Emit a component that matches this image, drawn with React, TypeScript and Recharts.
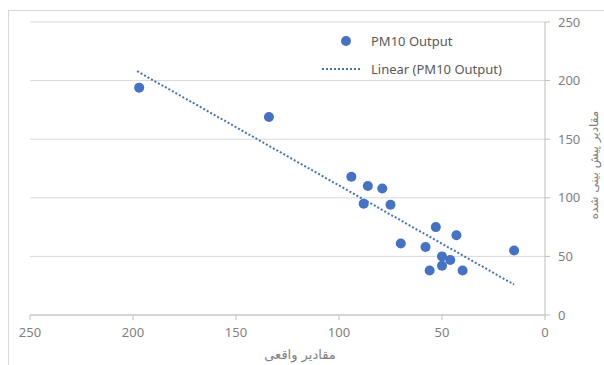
import { ScatterChart, Scatter, XAxis, YAxis, CartesianGrid } from "recharts";

// measured (actual) values on x, predicted on y
const actualValues = [197, 134, 94, 86, 79, 88, 75, 53, 43, 70, 58, 50, 46, 15, 56, 50, 40];
const predictedValues = [194, 169, 118, 110, 108, 95, 94, 75, 68, 61, 58, 50, 47, 55, 38, 42, 38];

// trendline end points
const trendX = [198, 15];
const trendY = [208, 26];

const xTicks = [0, 50, 100, 150, 200, 250];
const yTicks = [0, 50, 100, 150, 200, 250];

const BLUE = "#4472C4";
const TEXT = "#7f7f7f";

const points = actualValues.map((x, i) => ({ x, y: predictedValues[i] }));
const trend = trendX.map((x, i) => ({ x, y: trendY[i] }));

function LegendBox() {
  return (
    <div style={{ fontFamily: "Noto Sans, sans-serif", fontSize: 13, color: "#595959" }}>
      <div style={{ display: "flex", alignItems: "center", height: 28 }}>
        <svg width={48} height={12}>
          <circle cx={30} cy={6} r={5} fill={BLUE} />
        </svg>
        <span style={{ marginLeft: 7 }}>PM10 Output</span>
      </div>
      <div style={{ display: "flex", alignItems: "center", height: 28 }}>
        <svg width={48} height={12}>
          <line x1={6} y1={6} x2={46} y2={6} stroke={BLUE} strokeWidth={2} strokeDasharray="2 2" />
        </svg>
        <span style={{ marginLeft: 7 }}>Linear (PM10 Output)</span>
      </div>
    </div>
  );
}

export default function App() {
  return (
    <div style={{ position: "absolute", left: 0, top: 0, width: 604, height: 365, overflow: "hidden", background: "#fff" }}>
      <div
        style={{
          position: "absolute",
          left: 8,
          top: 10,
          width: 700,
          height: 500,
          borderLeft: "1px solid #d9d9d9",
          borderTop: "1px solid #d9d9d9",
        }}
      />
      <div style={{ position: "absolute", left: 0, top: 0 }}>
        <ScatterChart width={604} height={365} margin={{ top: 22, right: 0, bottom: 0, left: 30 }}>
          <CartesianGrid horizontal vertical={false} stroke="#d9d9d9" />
          <XAxis
            type="number"
            dataKey="x"
            domain={[0, 250]}
            ticks={xTicks}
            reversed
            height={50}
            stroke="#bfbfbf"
            tickSize={5}
            tickMargin={8}
            tick={{ fill: TEXT, fontSize: 13, fontFamily: "Noto Sans, sans-serif" }}
            label={{
              content: ({ viewBox }: any) => (
                <text
                  x={300}
                  y={viewBox.y + 44}
                  textAnchor="middle"
                  fill={TEXT}
                  fontSize={13}
                  fontFamily="DejaVu Sans, sans-serif"
                >
                  مقادیر واقعی
                </text>
              ),
            }}
          />
          <YAxis
            type="number"
            dataKey="y"
            orientation="right"
            domain={[0, 250]}
            ticks={yTicks}
            width={59}
            stroke="#bfbfbf"
            tickSize={5}
            tickMargin={8}
            tick={{ fill: TEXT, fontSize: 13, fontFamily: "Noto Sans, sans-serif" }}
            label={{
              content: () => {
                const cx = 594;
                const cy = 165;
                return (
                  <text
                    x={cx}
                    y={cy}
                    textAnchor="middle"
                    dominantBaseline="central"
                    transform={`rotate(-90 ${cx} ${cy})`}
                    fill={TEXT}
                    fontSize={12}
                    fontFamily="DejaVu Sans, sans-serif"
                  >
                    مقادیر پیش بینی شده
                  </text>
                );
              },
            }}
          />
          <Scatter
            name="Linear (PM10 Output)"
            data={trend}
            line={{ stroke: BLUE, strokeWidth: 2, strokeDasharray: "2 2" }}
            shape={() => <g />}
            isAnimationActive={false}
          />
          <Scatter name="PM10 Output" data={points} fill={BLUE} shape={(p: any) => <circle cx={p.cx} cy={p.cy} r={5} fill={BLUE} />} isAnimationActive={false} />
        </ScatterChart>
      </div>
      <div style={{ position: "absolute", left: 316, top: 27, width: 220 }}>
        <LegendBox />
      </div>
    </div>
  );
}
